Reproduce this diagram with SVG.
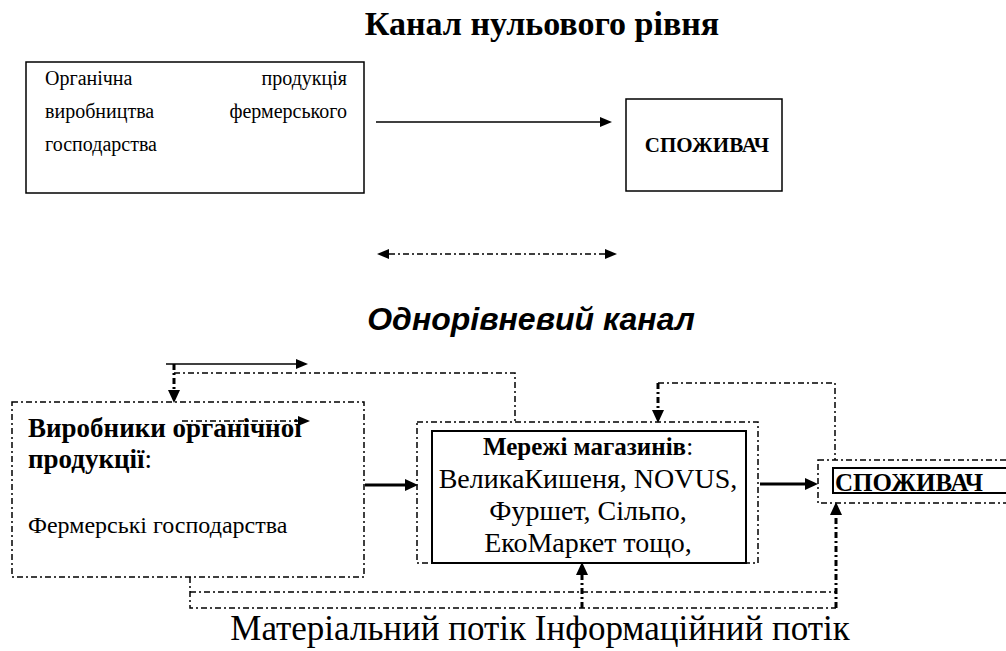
<svg xmlns="http://www.w3.org/2000/svg" width="1006" height="651" viewBox="0 0 1006 651" font-family="Liberation Serif, DejaVu Serif, serif">
<style>
text{font-family:'Liberation Serif','DejaVu Serif',serif;fill:#000}
.b{font-weight:bold}
.box{fill:none;stroke:#000;stroke-width:1.5}
.box2{fill:none;stroke:#000;stroke-width:2}
.dd{fill:none;stroke:#000;stroke-width:1.5;stroke-dasharray:6 3 2 3}
.tdd{fill:none;stroke:#000;stroke-width:3;stroke-dasharray:6 3 2 3}
.thin{fill:none;stroke:#000;stroke-width:1.3}
.thick{fill:none;stroke:#000;stroke-width:3}
</style>
<defs>
<marker id="ah" markerWidth="12" markerHeight="10" refX="0" refY="5" orient="auto-start-reverse" markerUnits="userSpaceOnUse"><path d="M0,0 L12,5 L0,10 z" fill="#000"/></marker>
<marker id="ahb" markerWidth="13" markerHeight="12" refX="0" refY="6" orient="auto-start-reverse" markerUnits="userSpaceOnUse"><path d="M0,0 L13,6 L0,12 z" fill="#000"/></marker>
</defs>
<rect width="1006" height="651" fill="#fff"/>

<g id="title0"><text class="b" x="542" y="35" font-size="34" text-anchor="middle">Канал нульового рівня</text></g>

<g id="source">
<rect class="box" x="26" y="62" width="338" height="131"/>
<text font-size="20" x="45" y="85">Органічна</text>
<text font-size="20" x="347" y="85" text-anchor="end">продукція</text>
<text font-size="20" x="45" y="118">виробництва</text>
<text font-size="20" x="347" y="118" text-anchor="end">фермерського</text>
<text font-size="20" x="45" y="151">господарства</text>
</g>

<g id="consumer0">
<rect class="box" x="626" y="99" width="156" height="92"/>
<text class="b" font-size="21" x="707" y="152" text-anchor="middle">СПОЖИВАЧ</text>
</g>

<g id="title1"><text x="531" y="330" style="font-family:'Liberation Sans',Arial,sans-serif" font-weight="bold" font-style="italic" font-size="32" text-anchor="middle">Однорівневий канал</text></g>

<g id="connectors">
<line class="thin" x1="376" y1="122" x2="600" y2="122" marker-end="url(#ah)"/>
<line class="dd" x1="389" y1="254" x2="605" y2="254" stroke-width="1.3" marker-start="url(#ah)" marker-end="url(#ah)"/>
<line class="thin" x1="166" y1="364" x2="296" y2="364" stroke-width="2" marker-end="url(#ah)"/>
<line class="tdd" x1="174" y1="364" x2="174" y2="390" marker-end="url(#ahb)"/>
<polyline class="dd" points="174,373 515,373 515,422"/>
<polyline class="dd" points="658,383 835,383 835,460"/>
<line class="tdd" x1="658" y1="383" x2="658" y2="410" marker-end="url(#ahb)"/>
<line class="dd" x1="182" y1="421" x2="298" y2="421" stroke-dasharray="6 3" marker-end="url(#ah)"/>
<line class="thick" x1="365" y1="485" x2="405" y2="485" marker-end="url(#ahb)"/>
<line class="thick" x1="760" y1="484" x2="805" y2="484" marker-end="url(#ahb)"/>
<polyline class="dd" points="190,577 190,608 836,608"/>
<line class="dd" x1="190" y1="592" x2="836" y2="592"/>
<line class="tdd" x1="582" y1="608" x2="582" y2="575" marker-end="url(#ahb)"/>
<line class="tdd" x1="836" y1="608" x2="836" y2="515" marker-end="url(#ahb)"/>
</g>

<g id="producers">
<rect class="dd" x="12" y="402" width="352" height="175"/>
<text class="b" font-size="27" x="28" y="437">Виробники органічної</text>
<text font-size="27" x="28" y="468"><tspan font-weight="bold">продукції</tspan>:</text>
<text font-size="24" x="28" y="533">Фермерські господарства</text>
</g>

<g id="stores">
<rect class="dd" x="417" y="422" width="341" height="141"/>
<rect class="box2" x="432" y="431" width="314" height="132"/>
<text font-size="25" x="588" y="455" text-anchor="middle"><tspan font-weight="bold">Мережі магазинів</tspan>:</text>
<text font-size="28" x="588" y="488" text-anchor="middle">ВеликаКишеня, NOVUS,</text>
<text font-size="28" x="588" y="520" text-anchor="middle">Фуршет, Сільпо,</text>
<text font-size="28" x="588" y="552" text-anchor="middle">ЕкоМаркет тощо,</text>
</g>

<g id="consumer1">
<rect class="dd" x="818" y="460" width="200" height="43"/>
<rect class="box2" x="833" y="468" width="180" height="25"/>
<text class="b" font-size="25" x="835" y="491">СПОЖИВАЧ</text>
</g>

<g id="legend"><text font-size="35" x="540" y="640" text-anchor="middle">Матеріальний потік Інформаційний потік</text></g>
</svg>
